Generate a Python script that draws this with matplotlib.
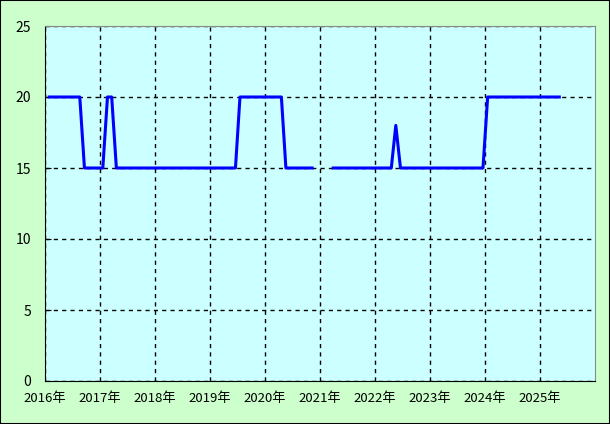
import matplotlib
matplotlib.use("Agg")
import matplotlib.pyplot as plt
import numpy as np
import pandas as pd

plt.rcParams['font.family'] = ['Noto Sans CJK JP', 'DejaVu Sans']

# monthly values, Jan 2016 .. May 2025 (nan = no data)
nan = np.nan
values = [
    20, 20, 20, 20, 20, 20, 20, 20, 15, 15, 15, 15,   # 2016
    15, 20, 20, 15, 15, 15, 15, 15, 15, 15, 15, 15,   # 2017
    15, 15, 15, 15, 15, 15, 15, 15, 15, 15, 15, 15,   # 2018
    15, 15, 15, 15, 15, 15, 20, 20, 20, 20, 20, 20,   # 2019
    20, 20, 20, 20, 15, 15, 15, 15, 15, 15, 15, nan,  # 2020
    nan, nan, 15, 15, 15, 15, 15, 15, 15, 15, 15, 15, # 2021
    15, 15, 15, 15, 18, 15, 15, 15, 15, 15, 15, 15,   # 2022
    15, 15, 15, 15, 15, 15, 15, 15, 15, 15, 15, 15,   # 2023
    20, 20, 20, 20, 20, 20, 20, 20, 20, 20, 20, 20,   # 2024
    20, 20, 20, 20, 20,                               # 2025
]
years = list(range(2016, 2027))
year_labels = [f"{y}年" for y in years[:-1]]
yticks = [0, 5, 10, 15, 20, 25]

dates = pd.date_range("2016-01-01", periods=len(values), freq="MS") + pd.Timedelta(days=18)
year_starts = pd.to_datetime([f"{y}-01-01" for y in years])

fig = plt.figure(figsize=(6.1, 4.24), dpi=100, facecolor="#ccffcc")
ax = fig.add_axes([45 / 610, 43 / 424, 550 / 610, 355 / 424])
ax.set_facecolor("#ccffff")

ax.plot(dates, values, color="#0000ff", linewidth=2.2, solid_capstyle="butt", zorder=3)

ax.set_xlim(year_starts[0], year_starts[-1])
ax.set_ylim(0, 25)
ax.set_xticks(year_starts[:-1])
ax.set_xticklabels(year_labels, fontsize=9.5)
ax.set_yticks(yticks)
ax.set_yticklabels([str(v) for v in yticks], fontsize=10)

ax.grid(True, color="black", linestyle=(0, (3, 3)), linewidth=1)
ax.tick_params(axis="x", length=0, pad=8)
ax.tick_params(axis="y", direction="in", length=4, pad=10, color="black")

for side in ["left", "bottom"]:
    ax.spines[side].set_color("black")
for side in ["top", "right"]:
    ax.spines[side].set_color("#888888")

# thin black frame around the figure
fig.patches.append(plt.Rectangle((0, 0), 1, 1, transform=fig.transFigure,
                                 fill=False, edgecolor="black", linewidth=1.5))

fig.savefig("out.png", dpi=100, facecolor=fig.get_facecolor())
